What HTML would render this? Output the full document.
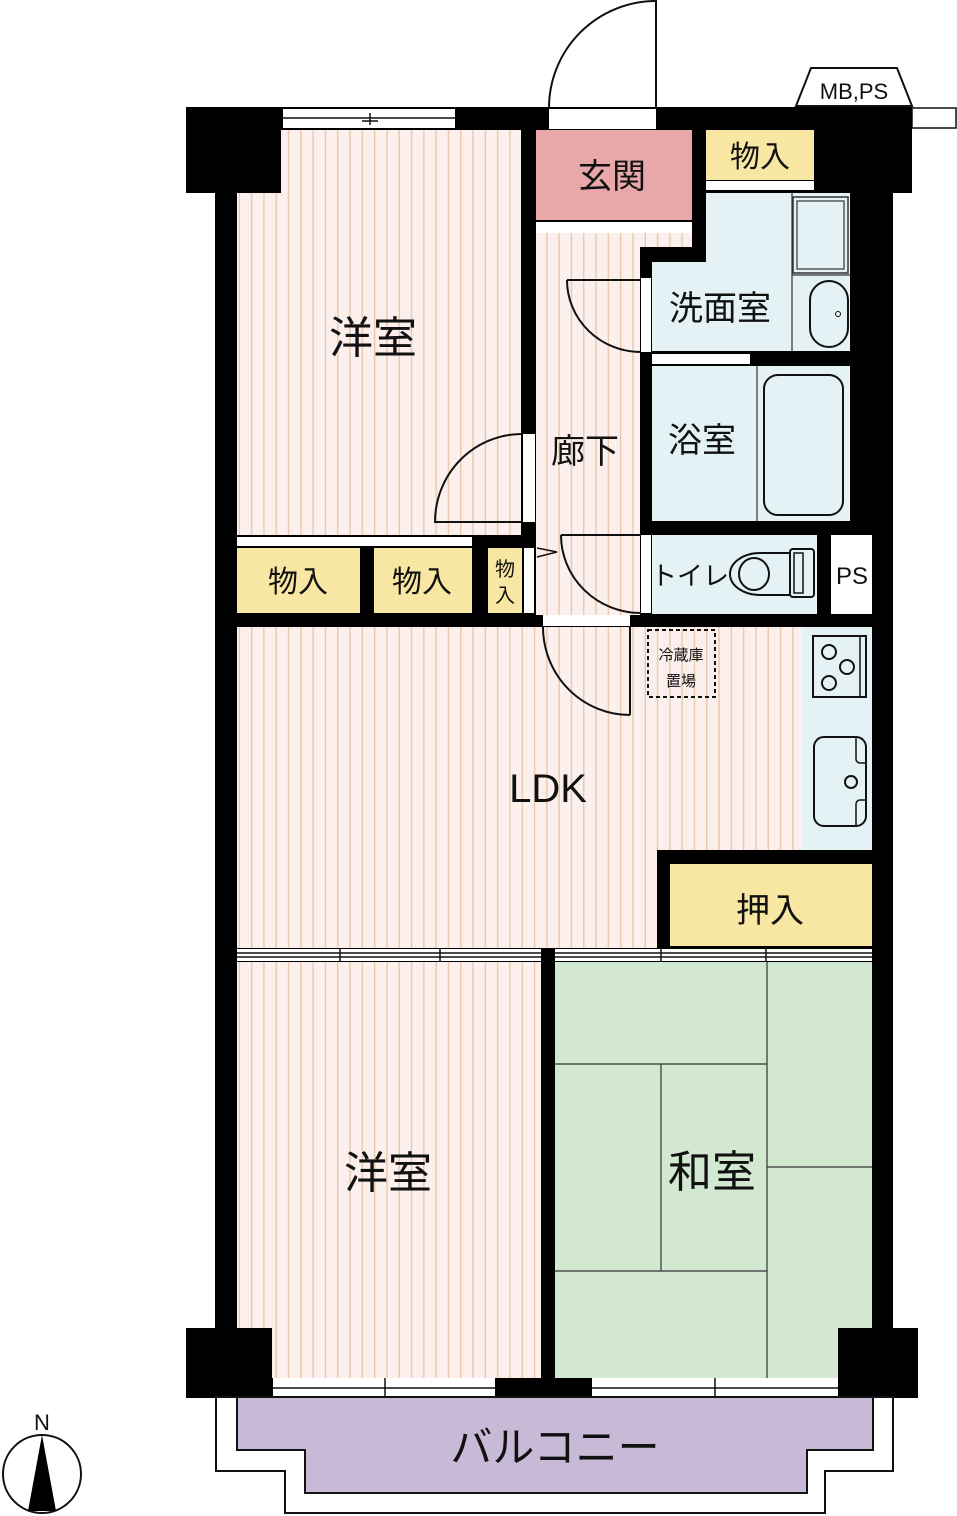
<!DOCTYPE html>
<html><head><meta charset="utf-8"><style>
html,body{margin:0;padding:0;background:#fff;}
svg{display:block;}
text{font-family:"Liberation Sans","Noto Sans CJK JP",sans-serif;fill:#111;}
</style></head><body>
<svg width="957" height="1516" viewBox="0 0 957 1516" xmlns="http://www.w3.org/2000/svg">
<defs>
<pattern id="st" x="0" y="0" width="12.3" height="20" patternUnits="userSpaceOnUse">
<rect width="12.3" height="20" fill="#fbf0ed"/>
<rect x="5" y="0" width="1.3" height="20" fill="#e8c6a4"/>
</pattern>
</defs>

<!-- entry door -->
<line x1="656" y1="0" x2="656" y2="108" stroke="#111" stroke-width="2"/>
<path d="M549,108 A107,107 0 0 1 656,1" fill="none" stroke="#111" stroke-width="2"/>
<!-- MB PS -->
<polygon points="796,106 811,68 897,68 912,106" fill="#fff" stroke="#111" stroke-width="2"/>
<text x="854" y="99" font-size="22" text-anchor="middle">MB,PS</text>
<rect x="912" y="108" width="44" height="20" fill="#fff" stroke="#111" stroke-width="1.5"/>

<!-- main black body -->
<rect x="215" y="107" width="678" height="1291" fill="#000"/>
<rect x="186" y="107" width="95" height="86" fill="#000"/>
<rect x="812" y="107" width="100" height="86" fill="#000"/>
<rect x="186" y="1328" width="86" height="70" fill="#000"/>
<rect x="838" y="1328" width="80" height="70" fill="#000"/>

<!-- top window & door opening -->
<rect x="283" y="109" width="172" height="19" fill="#fff"/>
<line x1="283" y1="118" x2="455" y2="118" stroke="#111" stroke-width="1.5"/>
<line x1="370" y1="113" x2="370" y2="125" stroke="#111" stroke-width="1.5"/>
<line x1="362" y1="121" x2="378" y2="121" stroke="#111" stroke-width="1.5"/>
<rect x="549" y="109" width="107" height="20" fill="#fff"/>

<!-- upper western room -->
<rect x="237" y="130" width="284" height="405" fill="url(#st)"/>
<rect x="237" y="130" width="44" height="63" fill="#000"/>
<text x="373" y="353" font-size="44" text-anchor="middle">洋室</text>

<!-- genkan -->
<rect x="536" y="130" width="156" height="90" fill="#e8a8a9"/>
<text x="612" y="188" font-size="34" text-anchor="middle">玄関</text>
<rect x="536" y="222" width="156" height="11" fill="#fff"/>

<!-- hallway -->
<rect x="536" y="233" width="104" height="382" fill="url(#st)"/>
<rect x="640" y="233" width="52" height="14" fill="url(#st)"/>
<text x="585" y="463" font-size="34" text-anchor="middle">廊下</text>

<!-- top storage -->
<rect x="706" y="130" width="108" height="50" fill="#f7e7a2"/>
<text x="760" y="167" font-size="30" text-anchor="middle">物入</text>
<rect x="706" y="181" width="108" height="9" fill="#fff"/>

<!-- washroom -->
<rect x="706" y="193" width="144" height="70" fill="#e4f1f5"/>
<rect x="652" y="262" width="198" height="89" fill="#e4f1f5"/>
<rect x="793" y="197" width="55" height="76" fill="none" stroke="#333" stroke-width="1.5"/>
<rect x="797" y="201" width="47" height="68" fill="none" stroke="#333" stroke-width="1.2"/>
<line x1="792" y1="193" x2="792" y2="351" stroke="#333" stroke-width="1.2"/>
<line x1="792" y1="275" x2="850" y2="275" stroke="#333" stroke-width="1.2"/>
<rect x="810" y="281" width="38" height="66" rx="19" fill="none" stroke="#111" stroke-width="2"/>
<circle cx="838" cy="314" r="2.5" fill="none" stroke="#111"/>
<text x="720" y="320" font-size="34" text-anchor="middle">洗面室</text>
<rect x="652" y="354" width="98" height="10" fill="#fff"/>
<rect x="641" y="278" width="10" height="74" fill="#fff"/>
<path d="M567,280 L641,280 M567,280 A74,72 0 0 0 641,352" fill="none" stroke="#111" stroke-width="2"/>

<!-- bathroom -->
<rect x="652" y="366" width="198" height="155" fill="#e4f1f5"/>
<line x1="757" y1="366" x2="757" y2="521" stroke="#333" stroke-width="1.2"/>
<rect x="764" y="375" width="79" height="140" rx="14" fill="none" stroke="#111" stroke-width="2"/>
<text x="702" y="452" font-size="34" text-anchor="middle">浴室</text>

<!-- toilet -->
<rect x="652" y="535" width="165" height="79" fill="#e4f1f5"/>
<rect x="641" y="535" width="10" height="78" fill="#fff"/>
<path d="M561,535 L641,535 M561,535 A80,78 0 0 0 641,613" fill="none" stroke="#111" stroke-width="2"/>
<path d="M790,553 L760,553 A30,21 0 0 0 760,595 L790,595 Z" fill="none" stroke="#111" stroke-width="2"/>
<ellipse cx="754" cy="574" rx="15" ry="16" fill="none" stroke="#111" stroke-width="2"/>
<rect x="790" y="549" width="24" height="48" rx="3" fill="none" stroke="#111" stroke-width="2"/>
<rect x="794" y="553" width="9" height="40" fill="none" stroke="#111" stroke-width="1.5"/>
<text x="690" y="585" font-size="26" text-anchor="middle">トイレ</text>
<rect x="831" y="535" width="41" height="79" fill="#fff"/>
<text x="852" y="584" font-size="24" text-anchor="middle">PS</text>

<!-- upper room door -->
<rect x="523" y="434" width="12" height="88" fill="#fff"/>
<path d="M521,434 A87,88 0 0 0 435,522 L521,522" fill="none" stroke="#111" stroke-width="2"/>

<!-- storage row -->
<rect x="237" y="537" width="235" height="9" fill="#fff"/>
<rect x="237" y="548" width="123" height="65" fill="#f7e7a2"/>
<rect x="374" y="548" width="98" height="65" fill="#f7e7a2"/>
<rect x="488" y="548" width="34" height="65" fill="#f7e7a2"/>
<rect x="524" y="548" width="10" height="65" fill="#fff"/>
<text x="298" y="592" font-size="30" text-anchor="middle">物入</text>
<text x="422" y="592" font-size="30" text-anchor="middle">物入</text>
<text x="505" y="576" font-size="20" text-anchor="middle">物</text>
<text x="505" y="602" font-size="20" text-anchor="middle">入</text>
<path d="M537,548 L557,552 L537,557" fill="none" stroke="#111" stroke-width="1.5"/>

<!-- LDK -->
<rect x="237" y="627" width="565" height="321" fill="url(#st)"/>
<rect x="543" y="615" width="87" height="11" fill="#fff"/>
<path d="M630,627 L630,715 M543,627 A87,88 0 0 0 630,715" fill="none" stroke="#111" stroke-width="2"/>
<rect x="648" y="630" width="67" height="67" fill="none" stroke="#111" stroke-width="2" stroke-dasharray="4,3"/>
<text x="681" y="660" font-size="15" text-anchor="middle">冷蔵庫</text>
<text x="681" y="686" font-size="15" text-anchor="middle">置場</text>
<text x="548" y="802" font-size="40" text-anchor="middle">LDK</text>
<!-- kitchen -->
<rect x="802" y="627" width="70" height="223" fill="#e4f1f5"/>
<rect x="813" y="636" width="53" height="61" fill="none" stroke="#111" stroke-width="2"/>
<line x1="860" y1="637" x2="860" y2="696" stroke="#111" stroke-width="1.5"/>
<circle cx="829" cy="652" r="7" fill="none" stroke="#111" stroke-width="2"/>
<circle cx="847" cy="667" r="7" fill="none" stroke="#111" stroke-width="2"/>
<circle cx="829" cy="683" r="7" fill="none" stroke="#111" stroke-width="2"/>
<rect x="814" y="737" width="52" height="89" rx="10" fill="none" stroke="#111" stroke-width="2"/>
<circle cx="851" cy="782" r="6" fill="none" stroke="#111" stroke-width="2"/>
<path d="M866,763 L860,763 A4,4 0 0 1 856,759 L856,737 M866,800 L860,800 A4,4 0 0 0 856,804 L856,826" fill="none" stroke="#111" stroke-width="1.5"/>
<!-- oshiire -->
<rect x="657" y="850" width="215" height="98" fill="#000"/>
<rect x="670" y="864" width="202" height="82" fill="#f7e7a2"/>
<text x="770" y="922" font-size="34" text-anchor="middle">押入</text>

<!-- sliding track -->
<rect x="237" y="949" width="304" height="12" fill="#fff"/>
<rect x="555" y="949" width="317" height="12" fill="#fff"/>
<g stroke="#111" stroke-width="1.5">
<line x1="237" y1="953" x2="541" y2="953"/><line x1="237" y1="957" x2="541" y2="957"/>
<line x1="340" y1="949" x2="340" y2="961"/><line x1="440" y1="949" x2="440" y2="961"/>
<line x1="555" y1="953" x2="872" y2="953"/><line x1="555" y1="957" x2="872" y2="957"/>
<line x1="661" y1="949" x2="661" y2="961"/><line x1="766" y1="949" x2="766" y2="961"/>
</g>

<!-- lower western -->
<rect x="237" y="962" width="304" height="416" fill="url(#st)"/>
<text x="388" y="1188" font-size="44" text-anchor="middle">洋室</text>
<!-- washitsu -->
<rect x="555" y="962" width="317" height="416" fill="#d3e8d0"/>
<g stroke="#333" stroke-width="1.2">
<line x1="767" y1="962" x2="767" y2="1378"/>
<line x1="555" y1="1064" x2="767" y2="1064"/>
<line x1="555" y1="1271" x2="767" y2="1271"/>
<line x1="661" y1="1064" x2="661" y2="1271"/>
<line x1="767" y1="1167" x2="872" y2="1167"/>
</g>
<text x="712" y="1187" font-size="44" text-anchor="middle">和室</text>
<rect x="186" y="1328" width="86" height="70" fill="#000"/>
<rect x="838" y="1328" width="80" height="70" fill="#000"/>

<!-- bottom windows -->
<rect x="273" y="1378" width="222" height="19" fill="#fff"/>
<rect x="592" y="1378" width="246" height="19" fill="#fff"/>
<g stroke="#111" stroke-width="1.5">
<line x1="273" y1="1388" x2="495" y2="1388"/>
<line x1="385" y1="1378" x2="385" y2="1397"/>
<line x1="592" y1="1388" x2="838" y2="1388"/>
<line x1="715" y1="1378" x2="715" y2="1397"/>
</g>

<!-- balcony -->
<polygon points="216,1397 216,1471 285,1471 285,1513 825,1513 825,1471 893,1471 893,1397" fill="#fff" stroke="#111" stroke-width="2"/>
<polygon points="237,1397 237,1450 305,1450 305,1493 807,1493 807,1450 873,1450 873,1397" fill="#c8b9d6" stroke="#111" stroke-width="2"/>
<text x="555" y="1462" font-size="42" text-anchor="middle">バルコニー</text>

<!-- compass -->
<text x="42" y="1430" font-size="22" text-anchor="middle" font-family="Liberation Sans">N</text>
<circle cx="42" cy="1474" r="39" fill="none" stroke="#111" stroke-width="2"/>
<polygon points="42,1435 28,1511 56,1511" fill="#000"/>
</svg>
</body></html>
